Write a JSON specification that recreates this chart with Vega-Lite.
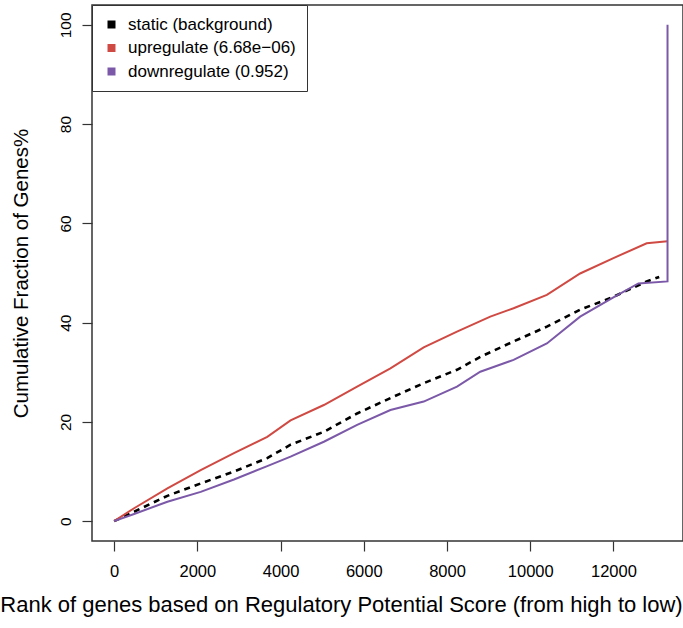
{
  "$schema": "https://vega.github.io/schema/vega-lite/v6.json",
  "autosize": {"type": "none"},
  "width": 591,
  "height": 536,
  "padding": {"left": 92, "top": 5, "right": 0, "bottom": 87},
  "background": "white",
  "config": {
    "font": "Liberation Sans",
    "view": {"stroke": "#333333", "strokeWidth": 1.5},
    "axis": {"grid": false, "domain": false, "tickColor": "#333333", "tickWidth": 1.2, "tickSize": 10,
             "labelColor": "black", "titleColor": "black", "labelFont": "Liberation Sans", "titleFont": "Liberation Sans",
             "titleFontWeight": "normal"}
  },
  "datasets": {
    "curves": [
      {"series": "static (background)", "i": 0, "rank": 0, "pct": 0},
      {"series": "static (background)", "i": 1, "rank": 480, "pct": 1.9},
      {"series": "static (background)", "i": 2, "rank": 1280, "pct": 5.1},
      {"series": "static (background)", "i": 3, "rank": 2080, "pct": 7.6},
      {"series": "static (background)", "i": 4, "rank": 2880, "pct": 10.0},
      {"series": "static (background)", "i": 5, "rank": 3680, "pct": 12.7},
      {"series": "static (background)", "i": 6, "rank": 4240, "pct": 15.4},
      {"series": "static (background)", "i": 7, "rank": 5040, "pct": 18.0},
      {"series": "static (background)", "i": 8, "rank": 5840, "pct": 21.7},
      {"series": "static (background)", "i": 9, "rank": 6640, "pct": 24.8},
      {"series": "static (background)", "i": 10, "rank": 7440, "pct": 27.8},
      {"series": "static (background)", "i": 11, "rank": 8240, "pct": 30.5},
      {"series": "static (background)", "i": 12, "rank": 8800, "pct": 33.1},
      {"series": "static (background)", "i": 13, "rank": 9600, "pct": 36.2},
      {"series": "static (background)", "i": 14, "rank": 10400, "pct": 39.2},
      {"series": "static (background)", "i": 15, "rank": 11200, "pct": 42.6},
      {"series": "static (background)", "i": 16, "rank": 12000, "pct": 45.2},
      {"series": "static (background)", "i": 17, "rank": 12800, "pct": 48.3},
      {"series": "static (background)", "i": 18, "rank": 13100, "pct": 49.2},
      {"series": "upregulate (6.68e−06)", "i": 0, "rank": 0, "pct": 0},
      {"series": "upregulate (6.68e−06)", "i": 1, "rank": 480, "pct": 2.6},
      {"series": "upregulate (6.68e−06)", "i": 2, "rank": 1280, "pct": 6.6},
      {"series": "upregulate (6.68e−06)", "i": 3, "rank": 2080, "pct": 10.3},
      {"series": "upregulate (6.68e−06)", "i": 4, "rank": 2880, "pct": 13.7},
      {"series": "upregulate (6.68e−06)", "i": 5, "rank": 3680, "pct": 17.0},
      {"series": "upregulate (6.68e−06)", "i": 6, "rank": 4240, "pct": 20.3},
      {"series": "upregulate (6.68e−06)", "i": 7, "rank": 5040, "pct": 23.4},
      {"series": "upregulate (6.68e−06)", "i": 8, "rank": 5840, "pct": 27.1},
      {"series": "upregulate (6.68e−06)", "i": 9, "rank": 6640, "pct": 30.8},
      {"series": "upregulate (6.68e−06)", "i": 10, "rank": 7440, "pct": 35.0},
      {"series": "upregulate (6.68e−06)", "i": 11, "rank": 8240, "pct": 38.2},
      {"series": "upregulate (6.68e−06)", "i": 12, "rank": 9040, "pct": 41.2},
      {"series": "upregulate (6.68e−06)", "i": 13, "rank": 9600, "pct": 42.9},
      {"series": "upregulate (6.68e−06)", "i": 14, "rank": 10400, "pct": 45.6},
      {"series": "upregulate (6.68e−06)", "i": 15, "rank": 11200, "pct": 49.9},
      {"series": "upregulate (6.68e−06)", "i": 16, "rank": 12000, "pct": 53.0},
      {"series": "upregulate (6.68e−06)", "i": 17, "rank": 12800, "pct": 56.0},
      {"series": "upregulate (6.68e−06)", "i": 18, "rank": 13300, "pct": 56.4},
      {"series": "downregulate (0.952)", "i": 0, "rank": 0, "pct": 0},
      {"series": "downregulate (0.952)", "i": 1, "rank": 480, "pct": 1.45},
      {"series": "downregulate (0.952)", "i": 2, "rank": 1280, "pct": 3.9},
      {"series": "downregulate (0.952)", "i": 3, "rank": 2080, "pct": 5.9},
      {"series": "downregulate (0.952)", "i": 4, "rank": 2880, "pct": 8.4},
      {"series": "downregulate (0.952)", "i": 5, "rank": 3680, "pct": 11.1},
      {"series": "downregulate (0.952)", "i": 6, "rank": 4240, "pct": 13.0},
      {"series": "downregulate (0.952)", "i": 7, "rank": 5040, "pct": 16.0},
      {"series": "downregulate (0.952)", "i": 8, "rank": 5840, "pct": 19.4},
      {"series": "downregulate (0.952)", "i": 9, "rank": 6640, "pct": 22.4},
      {"series": "downregulate (0.952)", "i": 10, "rank": 7440, "pct": 24.1},
      {"series": "downregulate (0.952)", "i": 11, "rank": 8240, "pct": 27.1},
      {"series": "downregulate (0.952)", "i": 12, "rank": 8800, "pct": 30.1},
      {"series": "downregulate (0.952)", "i": 13, "rank": 9600, "pct": 32.5},
      {"series": "downregulate (0.952)", "i": 14, "rank": 10400, "pct": 35.8},
      {"series": "downregulate (0.952)", "i": 15, "rank": 11200, "pct": 41.2},
      {"series": "downregulate (0.952)", "i": 16, "rank": 12000, "pct": 45.1},
      {"series": "downregulate (0.952)", "i": 17, "rank": 12600, "pct": 47.9},
      {"series": "downregulate (0.952)", "i": 18, "rank": 13300, "pct": 48.3},
      {"series": "downregulate (0.952)", "i": 19, "rank": 13300, "pct": 100}
    ]
  },
  "data": {"name": "curves"},
  "encoding": {
    "x": {"field": "rank", "type": "quantitative",
          "scale": {"domain": [-532, 13672], "nice": false, "zero": false},
          "axis": {"values": [0, 2000, 4000, 6000, 8000, 10000, 12000], "format": "d", "labelFontSize": 16.5, "labelPadding": 12,
                   "titlePadding": 15, "titleFontSize": 22, "titleX": 249, "titleAnchor": "middle", "titleAlign": "center",
                   "title": "Rank of genes based on Regulatory Potential Score (from high to low)", "labelFlush": false}},
    "y": {"field": "pct", "type": "quantitative",
          "scale": {"domain": [-4, 104], "nice": false, "zero": false},
          "axis": {"values": [0, 20, 40, 60, 80, 100], "labelAngle": 270, "labelFontSize": 15.5, "labelPadding": 9,
                   "titlePadding": 27, "titleFontSize": 20.5,
                   "title": "Cumulative Fraction of Genes%", "labelFlush": false}},
    "order": {"field": "i", "type": "quantitative"},
    "color": {"field": "series", "type": "nominal",
              "scale": {"domain": ["static (background)", "upregulate (6.68e−06)", "downregulate (0.952)"],
                        "range": ["#000000", "#D04A44", "#7B59A8"]},
              "legend": {"title": null, "orient": "none", "legendX": 0, "legendY": 0,
                         "fillColor": "white", "strokeColor": "#333333", "padding": 11,
                         "symbolType": "square", "symbolSize": 64, "symbolStrokeWidth": 0,
                         "labelFontSize": 17, "labelFont": "Liberation Sans", "labelColor": "black", "labelLimit": 400,
                         "rowPadding": 5.5, "labelOffset": 8,
                         "encode": {"symbols": {"update": {"fill": {"scale": "color", "field": "value"}, "opacity": {"value": 1}}}}}}
  },
  "layer": [
    {"transform": [{"filter": "datum.series === 'static (background)'"}],
     "mark": {"type": "line", "strokeWidth": 2.6, "strokeDash": [6, 5]}},
    {"transform": [{"filter": "datum.series === 'upregulate (6.68e−06)'"}],
     "mark": {"type": "line", "strokeWidth": 2}},
    {"transform": [{"filter": "datum.series === 'downregulate (0.952)'"}],
     "mark": {"type": "line", "strokeWidth": 2}}
  ]
}
